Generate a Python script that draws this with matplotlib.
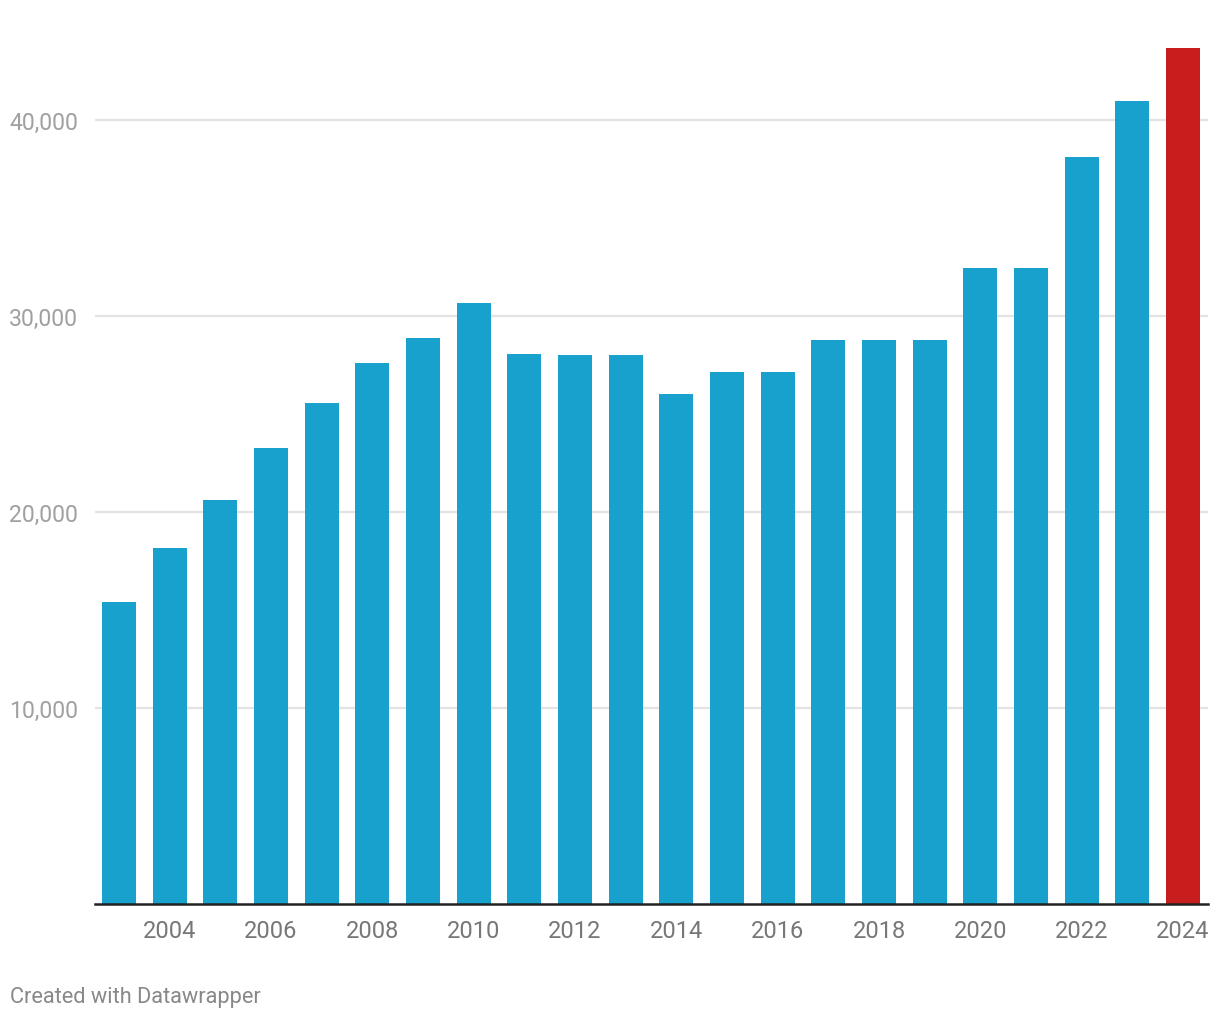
import matplotlib.pyplot as plt

plt.rcParams['font.family'] = ['Roboto', 'DejaVu Sans']

# Дані
years = list(range(2003, 2025))
values = [15400, 18150, 20600, 23250, 25550, 27600, 28880, 30650,
          28060, 28000, 28000, 26020, 27140, 27140, 28780, 28780,
          28780, 32450, 32450, 38110, 40970, 43670]
highlight_year = 2024
tick_years = list(range(2004, 2025, 2))
y_ticks = [10000, 20000, 30000, 40000]
y_labels = ['10,000', '20,000', '30,000', '40,000']

blue = '#18a1cd'
red = '#c71e1d'
colors = [red if y == highlight_year else blue for y in years]

fig = plt.figure(figsize=(12.2, 10.2), dpi=100)
ax = fig.add_axes([95 / 1220, 115 / 1020, 1113 / 1220, 865 / 1020])

ax.bar(years, values, width=0.67, color=colors, zorder=3)

ax.set_xlim(2003 - 0.474, 2024 + 0.493)
ax.set_ylim(0, 44130)

ax.set_yticks(y_ticks)
ax.set_yticklabels(y_labels)
ax.set_xticks(tick_years)
ax.set_xticklabels([str(y) for y in tick_years])

ax.grid(axis='y', color='#e3e3e3', linewidth=1.6, zorder=0)
for s in ['top', 'right', 'left']:
    ax.spines[s].set_visible(False)
ax.spines['bottom'].set_color('#222222')
ax.spines['bottom'].set_linewidth(1.8)
ax.spines['bottom'].set_zorder(4)

ax.tick_params(axis='y', length=0, pad=12, labelsize=16.6, labelcolor='#a0a0a0')
ax.tick_params(axis='x', length=0, pad=11, labelsize=17, labelcolor='#777777')

fig.text(10 / 1220, 1 - 998 / 1020, 'Created with Datawrapper',
         fontsize=15.7, color='#888888', va='center', ha='left')

fig.savefig('out.png', dpi=100, facecolor='white')
